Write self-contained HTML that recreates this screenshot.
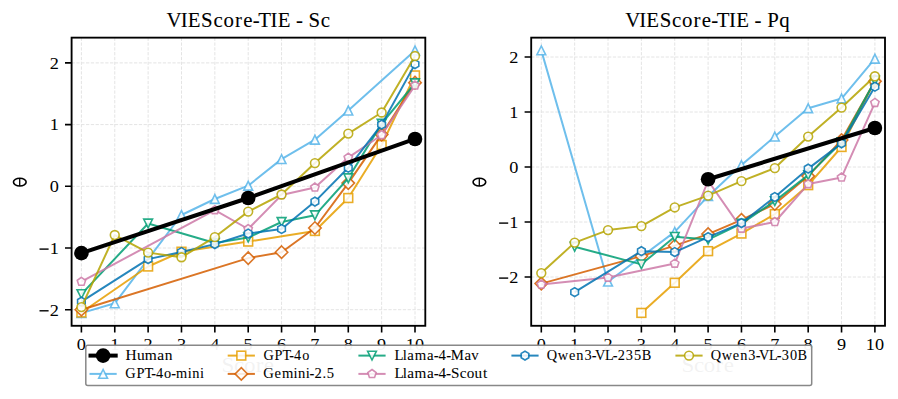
<!DOCTYPE html>
<html><head><meta charset="utf-8"><style>
html,body{margin:0;padding:0;background:#fff;}
svg{display:block;font-family:"Liberation Serif", serif;}
</style></head><body>
<svg width="898" height="399" viewBox="0 0 898 399">
<rect width="898" height="399" fill="#fff"/>
<path d="M81.4 37.65V325.8M114.76 37.65V325.8M148.12 37.65V325.8M181.48 37.65V325.8M214.84 37.65V325.8M248.2 37.65V325.8M281.56 37.65V325.8M314.92 37.65V325.8M348.28 37.65V325.8M381.64 37.65V325.8M415 37.65V325.8M71.6 62.9H425.3M71.6 124.6H425.3M71.6 186.3H425.3M71.6 248H425.3M71.6 309.7H425.3" stroke="#e4e4e4" stroke-width="1" stroke-dasharray="3.3 1.5" fill="none"/>
<defs><clipPath id="clipL"><rect x="71.6" y="37.65" width="353.7" height="288.15"/></clipPath></defs>
<g clip-path="url(#clipL)">
<polyline points="81.4,313.09 114.76,303.28 181.48,214.99 214.84,199.01 248.2,185.68 281.56,159.15 314.92,139.72 348.28,110.53 415,50.56" fill="none" stroke="#56b4e9" stroke-width="2.0" stroke-opacity="0.85" stroke-linejoin="round" stroke-linecap="butt"/>
<polygon points="81.4,308.69 77,317.49 85.8,317.49" fill="#fff" stroke="#56b4e9" stroke-width="1.6" stroke-opacity="0.85" fill-opacity="0.85" stroke-linejoin="miter"/>
<polygon points="114.76,298.88 110.36,307.68 119.16,307.68" fill="#fff" stroke="#56b4e9" stroke-width="1.6" stroke-opacity="0.85" fill-opacity="0.85" stroke-linejoin="miter"/>
<polygon points="181.48,210.59 177.08,219.39 185.88,219.39" fill="#fff" stroke="#56b4e9" stroke-width="1.6" stroke-opacity="0.85" fill-opacity="0.85" stroke-linejoin="miter"/>
<polygon points="214.84,194.61 210.44,203.41 219.24,203.41" fill="#fff" stroke="#56b4e9" stroke-width="1.6" stroke-opacity="0.85" fill-opacity="0.85" stroke-linejoin="miter"/>
<polygon points="248.2,181.28 243.8,190.08 252.6,190.08" fill="#fff" stroke="#56b4e9" stroke-width="1.6" stroke-opacity="0.85" fill-opacity="0.85" stroke-linejoin="miter"/>
<polygon points="281.56,154.75 277.16,163.55 285.96,163.55" fill="#fff" stroke="#56b4e9" stroke-width="1.6" stroke-opacity="0.85" fill-opacity="0.85" stroke-linejoin="miter"/>
<polygon points="314.92,135.32 310.52,144.12 319.32,144.12" fill="#fff" stroke="#56b4e9" stroke-width="1.6" stroke-opacity="0.85" fill-opacity="0.85" stroke-linejoin="miter"/>
<polygon points="348.28,106.13 343.88,114.93 352.68,114.93" fill="#fff" stroke="#56b4e9" stroke-width="1.6" stroke-opacity="0.85" fill-opacity="0.85" stroke-linejoin="miter"/>
<polygon points="415,46.16 410.6,54.96 419.4,54.96" fill="#fff" stroke="#56b4e9" stroke-width="1.6" stroke-opacity="0.85" fill-opacity="0.85" stroke-linejoin="miter"/>
<polyline points="81.4,312.48 148.12,266.51 181.48,251.7 248.2,241.58 314.92,230.97 348.28,198.02 381.64,145.02 415,75.43" fill="none" stroke="#e69f00" stroke-width="2.0" stroke-opacity="0.85" stroke-linejoin="round" stroke-linecap="butt"/>
<rect x="77" y="308.08" width="8.8" height="8.8" fill="#fff" stroke="#e69f00" stroke-width="1.6" stroke-opacity="0.85" fill-opacity="0.85"/>
<rect x="143.72" y="262.11" width="8.8" height="8.8" fill="#fff" stroke="#e69f00" stroke-width="1.6" stroke-opacity="0.85" fill-opacity="0.85"/>
<rect x="177.08" y="247.3" width="8.8" height="8.8" fill="#fff" stroke="#e69f00" stroke-width="1.6" stroke-opacity="0.85" fill-opacity="0.85"/>
<rect x="243.8" y="237.18" width="8.8" height="8.8" fill="#fff" stroke="#e69f00" stroke-width="1.6" stroke-opacity="0.85" fill-opacity="0.85"/>
<rect x="310.52" y="226.57" width="8.8" height="8.8" fill="#fff" stroke="#e69f00" stroke-width="1.6" stroke-opacity="0.85" fill-opacity="0.85"/>
<rect x="343.88" y="193.62" width="8.8" height="8.8" fill="#fff" stroke="#e69f00" stroke-width="1.6" stroke-opacity="0.85" fill-opacity="0.85"/>
<rect x="377.24" y="140.62" width="8.8" height="8.8" fill="#fff" stroke="#e69f00" stroke-width="1.6" stroke-opacity="0.85" fill-opacity="0.85"/>
<rect x="410.6" y="71.03" width="8.8" height="8.8" fill="#fff" stroke="#e69f00" stroke-width="1.6" stroke-opacity="0.85" fill-opacity="0.85"/>
<polyline points="81.4,309.7 248.2,258.12 281.56,252.2 314.92,228.01 348.28,183.09 381.64,134.6 415,82.64" fill="none" stroke="#d55e00" stroke-width="2.0" stroke-opacity="0.85" stroke-linejoin="round" stroke-linecap="butt"/>
<polygon points="81.4,303.48 87.62,309.7 81.4,315.92 75.18,309.7" fill="#fff" stroke="#d55e00" stroke-width="1.6" stroke-opacity="0.85" fill-opacity="0.85" stroke-linejoin="miter"/>
<polygon points="248.2,251.9 254.42,258.12 248.2,264.34 241.98,258.12" fill="#fff" stroke="#d55e00" stroke-width="1.6" stroke-opacity="0.85" fill-opacity="0.85" stroke-linejoin="miter"/>
<polygon points="281.56,245.97 287.78,252.2 281.56,258.42 275.34,252.2" fill="#fff" stroke="#d55e00" stroke-width="1.6" stroke-opacity="0.85" fill-opacity="0.85" stroke-linejoin="miter"/>
<polygon points="314.92,221.79 321.14,228.01 314.92,234.23 308.7,228.01" fill="#fff" stroke="#d55e00" stroke-width="1.6" stroke-opacity="0.85" fill-opacity="0.85" stroke-linejoin="miter"/>
<polygon points="348.28,176.87 354.5,183.09 348.28,189.31 342.06,183.09" fill="#fff" stroke="#d55e00" stroke-width="1.6" stroke-opacity="0.85" fill-opacity="0.85" stroke-linejoin="miter"/>
<polygon points="381.64,128.37 387.86,134.6 381.64,140.82 375.42,134.6" fill="#fff" stroke="#d55e00" stroke-width="1.6" stroke-opacity="0.85" fill-opacity="0.85" stroke-linejoin="miter"/>
<polygon points="415,76.42 421.22,82.64 415,88.87 408.78,82.64" fill="#fff" stroke="#d55e00" stroke-width="1.6" stroke-opacity="0.85" fill-opacity="0.85" stroke-linejoin="miter"/>
<polyline points="81.4,294.09 148.12,223.51 214.84,243.06 248.2,237.51 281.56,222.02 314.92,215.3 348.28,178.28 381.64,123.61 415,83.26" fill="none" stroke="#009e73" stroke-width="2.0" stroke-opacity="0.85" stroke-linejoin="round" stroke-linecap="butt"/>
<polygon points="81.4,298.49 77,289.69 85.8,289.69" fill="#fff" stroke="#009e73" stroke-width="1.6" stroke-opacity="0.85" fill-opacity="0.85" stroke-linejoin="miter"/>
<polygon points="148.12,227.91 143.72,219.11 152.52,219.11" fill="#fff" stroke="#009e73" stroke-width="1.6" stroke-opacity="0.85" fill-opacity="0.85" stroke-linejoin="miter"/>
<polygon points="214.84,247.46 210.44,238.66 219.24,238.66" fill="#fff" stroke="#009e73" stroke-width="1.6" stroke-opacity="0.85" fill-opacity="0.85" stroke-linejoin="miter"/>
<polygon points="248.2,241.91 243.8,233.11 252.6,233.11" fill="#fff" stroke="#009e73" stroke-width="1.6" stroke-opacity="0.85" fill-opacity="0.85" stroke-linejoin="miter"/>
<polygon points="281.56,226.42 277.16,217.62 285.96,217.62" fill="#fff" stroke="#009e73" stroke-width="1.6" stroke-opacity="0.85" fill-opacity="0.85" stroke-linejoin="miter"/>
<polygon points="314.92,219.7 310.52,210.9 319.32,210.9" fill="#fff" stroke="#009e73" stroke-width="1.6" stroke-opacity="0.85" fill-opacity="0.85" stroke-linejoin="miter"/>
<polygon points="348.28,182.68 343.88,173.88 352.68,173.88" fill="#fff" stroke="#009e73" stroke-width="1.6" stroke-opacity="0.85" fill-opacity="0.85" stroke-linejoin="miter"/>
<polygon points="381.64,128.01 377.24,119.21 386.04,119.21" fill="#fff" stroke="#009e73" stroke-width="1.6" stroke-opacity="0.85" fill-opacity="0.85" stroke-linejoin="miter"/>
<polygon points="415,87.66 410.6,78.86 419.4,78.86" fill="#fff" stroke="#009e73" stroke-width="1.6" stroke-opacity="0.85" fill-opacity="0.85" stroke-linejoin="miter"/>
<polyline points="81.4,281.69 214.84,210.05 248.2,229 281.56,194.94 314.92,187.47 348.28,157.61 381.64,135.03 415,85.48" fill="none" stroke="#cc79a7" stroke-width="2.0" stroke-opacity="0.85" stroke-linejoin="round" stroke-linecap="butt"/>
<polygon points="81.4,277.29 85.58,280.33 83.99,285.25 78.81,285.25 77.22,280.33" fill="#fff" stroke="#cc79a7" stroke-width="1.6" stroke-opacity="0.85" fill-opacity="0.85" stroke-linejoin="miter"/>
<polygon points="214.84,205.65 219.02,208.69 217.43,213.61 212.25,213.61 210.66,208.69" fill="#fff" stroke="#cc79a7" stroke-width="1.6" stroke-opacity="0.85" fill-opacity="0.85" stroke-linejoin="miter"/>
<polygon points="248.2,224.6 252.38,227.64 250.79,232.56 245.61,232.56 244.02,227.64" fill="#fff" stroke="#cc79a7" stroke-width="1.6" stroke-opacity="0.85" fill-opacity="0.85" stroke-linejoin="miter"/>
<polygon points="281.56,190.54 285.74,193.58 284.15,198.5 278.97,198.5 277.38,193.58" fill="#fff" stroke="#cc79a7" stroke-width="1.6" stroke-opacity="0.85" fill-opacity="0.85" stroke-linejoin="miter"/>
<polygon points="314.92,183.07 319.1,186.11 317.51,191.03 312.33,191.03 310.74,186.11" fill="#fff" stroke="#cc79a7" stroke-width="1.6" stroke-opacity="0.85" fill-opacity="0.85" stroke-linejoin="miter"/>
<polygon points="348.28,153.21 352.46,156.25 350.87,161.17 345.69,161.17 344.1,156.25" fill="#fff" stroke="#cc79a7" stroke-width="1.6" stroke-opacity="0.85" fill-opacity="0.85" stroke-linejoin="miter"/>
<polygon points="381.64,130.63 385.82,133.67 384.23,138.59 379.05,138.59 377.46,133.67" fill="#fff" stroke="#cc79a7" stroke-width="1.6" stroke-opacity="0.85" fill-opacity="0.85" stroke-linejoin="miter"/>
<polygon points="415,81.08 419.18,84.12 417.59,89.04 412.41,89.04 410.82,84.12" fill="#fff" stroke="#cc79a7" stroke-width="1.6" stroke-opacity="0.85" fill-opacity="0.85" stroke-linejoin="miter"/>
<polyline points="81.4,301.68 148.12,259.11 181.48,252.07 214.84,244.11 248.2,233.56 281.56,229 314.92,201.6 348.28,167.79 381.64,124.6 415,64.13" fill="none" stroke="#0072b2" stroke-width="2.0" stroke-opacity="0.85" stroke-linejoin="round" stroke-linecap="butt"/>
<polygon points="81.4,297.28 85.21,299.48 85.21,303.88 81.4,306.08 77.59,303.88 77.59,299.48" fill="#fff" stroke="#0072b2" stroke-width="1.6" stroke-opacity="0.85" fill-opacity="0.85" stroke-linejoin="miter"/>
<polygon points="148.12,254.71 151.93,256.91 151.93,261.31 148.12,263.51 144.31,261.31 144.31,256.91" fill="#fff" stroke="#0072b2" stroke-width="1.6" stroke-opacity="0.85" fill-opacity="0.85" stroke-linejoin="miter"/>
<polygon points="181.48,247.67 185.29,249.87 185.29,254.27 181.48,256.47 177.67,254.27 177.67,249.87" fill="#fff" stroke="#0072b2" stroke-width="1.6" stroke-opacity="0.85" fill-opacity="0.85" stroke-linejoin="miter"/>
<polygon points="214.84,239.71 218.65,241.91 218.65,246.31 214.84,248.51 211.03,246.31 211.03,241.91" fill="#fff" stroke="#0072b2" stroke-width="1.6" stroke-opacity="0.85" fill-opacity="0.85" stroke-linejoin="miter"/>
<polygon points="248.2,229.16 252.01,231.36 252.01,235.76 248.2,237.96 244.39,235.76 244.39,231.36" fill="#fff" stroke="#0072b2" stroke-width="1.6" stroke-opacity="0.85" fill-opacity="0.85" stroke-linejoin="miter"/>
<polygon points="281.56,224.6 285.37,226.8 285.37,231.2 281.56,233.4 277.75,231.2 277.75,226.8" fill="#fff" stroke="#0072b2" stroke-width="1.6" stroke-opacity="0.85" fill-opacity="0.85" stroke-linejoin="miter"/>
<polygon points="314.92,197.2 318.73,199.4 318.73,203.8 314.92,206 311.11,203.8 311.11,199.4" fill="#fff" stroke="#0072b2" stroke-width="1.6" stroke-opacity="0.85" fill-opacity="0.85" stroke-linejoin="miter"/>
<polygon points="348.28,163.39 352.09,165.59 352.09,169.99 348.28,172.19 344.47,169.99 344.47,165.59" fill="#fff" stroke="#0072b2" stroke-width="1.6" stroke-opacity="0.85" fill-opacity="0.85" stroke-linejoin="miter"/>
<polygon points="381.64,120.2 385.45,122.4 385.45,126.8 381.64,129 377.83,126.8 377.83,122.4" fill="#fff" stroke="#0072b2" stroke-width="1.6" stroke-opacity="0.85" fill-opacity="0.85" stroke-linejoin="miter"/>
<polygon points="415,59.73 418.81,61.93 418.81,66.33 415,68.53 411.19,66.33 411.19,61.93" fill="#fff" stroke="#0072b2" stroke-width="1.6" stroke-opacity="0.85" fill-opacity="0.85" stroke-linejoin="miter"/>
<polyline points="81.4,307.11 114.76,235.04 148.12,252.63 181.48,257.25 214.84,237.08 248.2,211.6 281.56,194.51 314.92,163.1 348.28,133.61 381.64,112.51 415,55.99" fill="none" stroke="#b5a300" stroke-width="2.0" stroke-opacity="0.85" stroke-linejoin="round" stroke-linecap="butt"/>
<circle cx="81.4" cy="307.11" r="4.4" fill="#fff" stroke="#b5a300" stroke-width="1.6" stroke-opacity="0.85" fill-opacity="0.85"/>
<circle cx="114.76" cy="235.04" r="4.4" fill="#fff" stroke="#b5a300" stroke-width="1.6" stroke-opacity="0.85" fill-opacity="0.85"/>
<circle cx="148.12" cy="252.63" r="4.4" fill="#fff" stroke="#b5a300" stroke-width="1.6" stroke-opacity="0.85" fill-opacity="0.85"/>
<circle cx="181.48" cy="257.25" r="4.4" fill="#fff" stroke="#b5a300" stroke-width="1.6" stroke-opacity="0.85" fill-opacity="0.85"/>
<circle cx="214.84" cy="237.08" r="4.4" fill="#fff" stroke="#b5a300" stroke-width="1.6" stroke-opacity="0.85" fill-opacity="0.85"/>
<circle cx="248.2" cy="211.6" r="4.4" fill="#fff" stroke="#b5a300" stroke-width="1.6" stroke-opacity="0.85" fill-opacity="0.85"/>
<circle cx="281.56" cy="194.51" r="4.4" fill="#fff" stroke="#b5a300" stroke-width="1.6" stroke-opacity="0.85" fill-opacity="0.85"/>
<circle cx="314.92" cy="163.1" r="4.4" fill="#fff" stroke="#b5a300" stroke-width="1.6" stroke-opacity="0.85" fill-opacity="0.85"/>
<circle cx="348.28" cy="133.61" r="4.4" fill="#fff" stroke="#b5a300" stroke-width="1.6" stroke-opacity="0.85" fill-opacity="0.85"/>
<circle cx="381.64" cy="112.51" r="4.4" fill="#fff" stroke="#b5a300" stroke-width="1.6" stroke-opacity="0.85" fill-opacity="0.85"/>
<circle cx="415" cy="55.99" r="4.4" fill="#fff" stroke="#b5a300" stroke-width="1.6" stroke-opacity="0.85" fill-opacity="0.85"/>
<polyline points="81.4,253.12 248.2,198.02 415,138.98" fill="none" stroke="#000000" stroke-width="4.0" stroke-opacity="1" stroke-linejoin="round" stroke-linecap="butt"/>
<circle cx="81.4" cy="253.12" r="7.3" fill="#000"/>
<circle cx="248.2" cy="198.02" r="7.3" fill="#000"/>
<circle cx="415" cy="138.98" r="7.3" fill="#000"/>
</g>
<rect x="71.6" y="37.65" width="353.7" height="288.15" fill="none" stroke="#000" stroke-width="1.85"/>
<path d="M81.4 325.8V332.4M114.76 325.8V332.4M148.12 325.8V332.4M181.48 325.8V332.4M214.84 325.8V332.4M248.2 325.8V332.4M281.56 325.8V332.4M314.92 325.8V332.4M348.28 325.8V332.4M381.64 325.8V332.4M415 325.8V332.4M71.6 62.9H65M71.6 124.6H65M71.6 186.3H65M71.6 248H65M71.6 309.7H65" stroke="#000" stroke-width="1.6" fill="none"/>
<text x="81.4" y="350.4" font-size="16.3" text-anchor="middle" fill="#000" textLength="9.13" lengthAdjust="spacingAndGlyphs">0</text>
<text x="114.76" y="350.4" font-size="16.3" text-anchor="middle" fill="#000" textLength="9.13" lengthAdjust="spacingAndGlyphs">1</text>
<text x="148.12" y="350.4" font-size="16.3" text-anchor="middle" fill="#000" textLength="9.13" lengthAdjust="spacingAndGlyphs">2</text>
<text x="181.48" y="350.4" font-size="16.3" text-anchor="middle" fill="#000" textLength="9.13" lengthAdjust="spacingAndGlyphs">3</text>
<text x="214.84" y="350.4" font-size="16.3" text-anchor="middle" fill="#000" textLength="9.13" lengthAdjust="spacingAndGlyphs">4</text>
<text x="248.2" y="350.4" font-size="16.3" text-anchor="middle" fill="#000" textLength="9.13" lengthAdjust="spacingAndGlyphs">5</text>
<text x="281.56" y="350.4" font-size="16.3" text-anchor="middle" fill="#000" textLength="9.13" lengthAdjust="spacingAndGlyphs">6</text>
<text x="314.92" y="350.4" font-size="16.3" text-anchor="middle" fill="#000" textLength="9.13" lengthAdjust="spacingAndGlyphs">7</text>
<text x="348.28" y="350.4" font-size="16.3" text-anchor="middle" fill="#000" textLength="9.13" lengthAdjust="spacingAndGlyphs">8</text>
<text x="381.64" y="350.4" font-size="16.3" text-anchor="middle" fill="#000" textLength="9.13" lengthAdjust="spacingAndGlyphs">9</text>
<text x="415" y="350.4" font-size="16.3" text-anchor="middle" fill="#000" textLength="18.26" lengthAdjust="spacingAndGlyphs">10</text>
<text x="58.8" y="68.7" font-size="16.3" text-anchor="end" fill="#000" textLength="9.13" lengthAdjust="spacingAndGlyphs">2</text>
<text x="58.8" y="130.4" font-size="16.3" text-anchor="end" fill="#000" textLength="9.13" lengthAdjust="spacingAndGlyphs">1</text>
<text x="58.8" y="192.1" font-size="16.3" text-anchor="end" fill="#000" textLength="9.13" lengthAdjust="spacingAndGlyphs">0</text>
<text x="58.8" y="253.8" font-size="16.3" text-anchor="end" fill="#000" textLength="9.13" lengthAdjust="spacingAndGlyphs">1</text>
<rect x="39.5" y="248.4" width="9.1" height="1.4" fill="#000"/>
<text x="58.8" y="315.5" font-size="16.3" text-anchor="end" fill="#000" textLength="9.13" lengthAdjust="spacingAndGlyphs">2</text>
<rect x="39.5" y="310.1" width="9.1" height="1.4" fill="#000"/>
<text x="159.51 172.98 179.79 192.57 204.39 213.92 225.02 232.90 242.04 247.23 259.05 265.86 278.50 283.34 289.75 295.40 307.21" y="26.85" font-size="19.97" transform="scale(1.0443 1)" fill="#000" stroke="#000" stroke-width="0.08">VIEScore-TIE - Sc</text>
<ellipse cx="19.8" cy="182.12" rx="6.35" ry="3.85" fill="none" stroke="#000" stroke-width="1.6"/>
<path d="M19.7 178.22V186.03" stroke="#000" stroke-width="1.3"/>
<text x="193.02 203.87 212.49 222.73 229.81" y="372.30" font-size="20.03" transform="scale(1.1480 1)" fill="#000">Score</text>
<path d="M541.3 37.65V325.8M574.66 37.65V325.8M608.02 37.65V325.8M641.38 37.65V325.8M674.74 37.65V325.8M708.1 37.65V325.8M741.46 37.65V325.8M774.82 37.65V325.8M808.18 37.65V325.8M841.54 37.65V325.8M874.9 37.65V325.8M531.2 57H885M531.2 112H885M531.2 167H885M531.2 222H885M531.2 277H885" stroke="#e4e4e4" stroke-width="1" stroke-dasharray="3.3 1.5" fill="none"/>
<defs><clipPath id="clipR"><rect x="531.2" y="37.65" width="353.8" height="288.15"/></clipPath></defs>
<g clip-path="url(#clipR)">
<polyline points="541.3,50.4 608.02,281.68 674.74,231.9 708.1,196.15 741.46,165.07 774.82,136.59 808.18,108.21 841.54,98.52 874.9,58.7" fill="none" stroke="#56b4e9" stroke-width="2.0" stroke-opacity="0.85" stroke-linejoin="round" stroke-linecap="butt"/>
<polygon points="541.3,46 536.9,54.8 545.7,54.8" fill="#fff" stroke="#56b4e9" stroke-width="1.6" stroke-opacity="0.85" fill-opacity="0.85" stroke-linejoin="miter"/>
<polygon points="608.02,277.28 603.62,286.07 612.42,286.07" fill="#fff" stroke="#56b4e9" stroke-width="1.6" stroke-opacity="0.85" fill-opacity="0.85" stroke-linejoin="miter"/>
<polygon points="674.74,227.5 670.34,236.3 679.14,236.3" fill="#fff" stroke="#56b4e9" stroke-width="1.6" stroke-opacity="0.85" fill-opacity="0.85" stroke-linejoin="miter"/>
<polygon points="708.1,191.75 703.7,200.55 712.5,200.55" fill="#fff" stroke="#56b4e9" stroke-width="1.6" stroke-opacity="0.85" fill-opacity="0.85" stroke-linejoin="miter"/>
<polygon points="741.46,160.67 737.06,169.47 745.86,169.47" fill="#fff" stroke="#56b4e9" stroke-width="1.6" stroke-opacity="0.85" fill-opacity="0.85" stroke-linejoin="miter"/>
<polygon points="774.82,132.19 770.42,140.99 779.22,140.99" fill="#fff" stroke="#56b4e9" stroke-width="1.6" stroke-opacity="0.85" fill-opacity="0.85" stroke-linejoin="miter"/>
<polygon points="808.18,103.81 803.78,112.61 812.58,112.61" fill="#fff" stroke="#56b4e9" stroke-width="1.6" stroke-opacity="0.85" fill-opacity="0.85" stroke-linejoin="miter"/>
<polygon points="841.54,94.12 837.14,102.92 845.94,102.92" fill="#fff" stroke="#56b4e9" stroke-width="1.6" stroke-opacity="0.85" fill-opacity="0.85" stroke-linejoin="miter"/>
<polygon points="874.9,54.3 870.5,63.1 879.3,63.1" fill="#fff" stroke="#56b4e9" stroke-width="1.6" stroke-opacity="0.85" fill-opacity="0.85" stroke-linejoin="miter"/>
<polyline points="641.38,312.91 674.74,282.77 708.1,251.15 741.46,233.55 774.82,214.08 808.18,185.15 841.54,146.98 874.9,80.65" fill="none" stroke="#e69f00" stroke-width="2.0" stroke-opacity="0.85" stroke-linejoin="round" stroke-linecap="butt"/>
<rect x="636.98" y="308.51" width="8.8" height="8.8" fill="#fff" stroke="#e69f00" stroke-width="1.6" stroke-opacity="0.85" fill-opacity="0.85"/>
<rect x="670.34" y="278.38" width="8.8" height="8.8" fill="#fff" stroke="#e69f00" stroke-width="1.6" stroke-opacity="0.85" fill-opacity="0.85"/>
<rect x="703.7" y="246.75" width="8.8" height="8.8" fill="#fff" stroke="#e69f00" stroke-width="1.6" stroke-opacity="0.85" fill-opacity="0.85"/>
<rect x="737.06" y="229.15" width="8.8" height="8.8" fill="#fff" stroke="#e69f00" stroke-width="1.6" stroke-opacity="0.85" fill-opacity="0.85"/>
<rect x="770.42" y="209.68" width="8.8" height="8.8" fill="#fff" stroke="#e69f00" stroke-width="1.6" stroke-opacity="0.85" fill-opacity="0.85"/>
<rect x="803.78" y="180.75" width="8.8" height="8.8" fill="#fff" stroke="#e69f00" stroke-width="1.6" stroke-opacity="0.85" fill-opacity="0.85"/>
<rect x="837.14" y="142.58" width="8.8" height="8.8" fill="#fff" stroke="#e69f00" stroke-width="1.6" stroke-opacity="0.85" fill-opacity="0.85"/>
<rect x="870.5" y="76.25" width="8.8" height="8.8" fill="#fff" stroke="#e69f00" stroke-width="1.6" stroke-opacity="0.85" fill-opacity="0.85"/>
<polyline points="541.3,283.6 641.38,256.1 674.74,245.65 708.1,234.1 741.46,219.8 774.82,204.01 808.18,176.07 841.54,140.05 874.9,81.31" fill="none" stroke="#d55e00" stroke-width="2.0" stroke-opacity="0.85" stroke-linejoin="round" stroke-linecap="butt"/>
<polygon points="541.3,277.38 547.52,283.6 541.3,289.82 535.08,283.6" fill="#fff" stroke="#d55e00" stroke-width="1.6" stroke-opacity="0.85" fill-opacity="0.85" stroke-linejoin="miter"/>
<polygon points="641.38,249.88 647.6,256.1 641.38,262.32 635.16,256.1" fill="#fff" stroke="#d55e00" stroke-width="1.6" stroke-opacity="0.85" fill-opacity="0.85" stroke-linejoin="miter"/>
<polygon points="674.74,239.43 680.96,245.65 674.74,251.87 668.52,245.65" fill="#fff" stroke="#d55e00" stroke-width="1.6" stroke-opacity="0.85" fill-opacity="0.85" stroke-linejoin="miter"/>
<polygon points="708.1,227.88 714.32,234.1 708.1,240.32 701.88,234.1" fill="#fff" stroke="#d55e00" stroke-width="1.6" stroke-opacity="0.85" fill-opacity="0.85" stroke-linejoin="miter"/>
<polygon points="741.46,213.58 747.68,219.8 741.46,226.02 735.24,219.8" fill="#fff" stroke="#d55e00" stroke-width="1.6" stroke-opacity="0.85" fill-opacity="0.85" stroke-linejoin="miter"/>
<polygon points="774.82,197.79 781.04,204.01 774.82,210.24 768.6,204.01" fill="#fff" stroke="#d55e00" stroke-width="1.6" stroke-opacity="0.85" fill-opacity="0.85" stroke-linejoin="miter"/>
<polygon points="808.18,169.85 814.4,176.07 808.18,182.3 801.96,176.07" fill="#fff" stroke="#d55e00" stroke-width="1.6" stroke-opacity="0.85" fill-opacity="0.85" stroke-linejoin="miter"/>
<polygon points="841.54,133.83 847.76,140.05 841.54,146.27 835.32,140.05" fill="#fff" stroke="#d55e00" stroke-width="1.6" stroke-opacity="0.85" fill-opacity="0.85" stroke-linejoin="miter"/>
<polygon points="874.9,75.09 881.12,81.31 874.9,87.53 868.68,81.31" fill="#fff" stroke="#d55e00" stroke-width="1.6" stroke-opacity="0.85" fill-opacity="0.85" stroke-linejoin="miter"/>
<polyline points="574.66,246.75 641.38,264.35 674.74,236.85 708.1,239.6 741.46,223.65 774.82,201.1 808.18,175.09 841.54,142.25 874.9,80.65" fill="none" stroke="#009e73" stroke-width="2.0" stroke-opacity="0.85" stroke-linejoin="round" stroke-linecap="butt"/>
<polygon points="574.66,251.15 570.26,242.35 579.06,242.35" fill="#fff" stroke="#009e73" stroke-width="1.6" stroke-opacity="0.85" fill-opacity="0.85" stroke-linejoin="miter"/>
<polygon points="641.38,268.75 636.98,259.95 645.78,259.95" fill="#fff" stroke="#009e73" stroke-width="1.6" stroke-opacity="0.85" fill-opacity="0.85" stroke-linejoin="miter"/>
<polygon points="674.74,241.25 670.34,232.45 679.14,232.45" fill="#fff" stroke="#009e73" stroke-width="1.6" stroke-opacity="0.85" fill-opacity="0.85" stroke-linejoin="miter"/>
<polygon points="708.1,244 703.7,235.2 712.5,235.2" fill="#fff" stroke="#009e73" stroke-width="1.6" stroke-opacity="0.85" fill-opacity="0.85" stroke-linejoin="miter"/>
<polygon points="741.46,228.05 737.06,219.25 745.86,219.25" fill="#fff" stroke="#009e73" stroke-width="1.6" stroke-opacity="0.85" fill-opacity="0.85" stroke-linejoin="miter"/>
<polygon points="774.82,205.5 770.42,196.7 779.22,196.7" fill="#fff" stroke="#009e73" stroke-width="1.6" stroke-opacity="0.85" fill-opacity="0.85" stroke-linejoin="miter"/>
<polygon points="808.18,179.49 803.78,170.69 812.58,170.69" fill="#fff" stroke="#009e73" stroke-width="1.6" stroke-opacity="0.85" fill-opacity="0.85" stroke-linejoin="miter"/>
<polygon points="841.54,146.65 837.14,137.85 845.94,137.85" fill="#fff" stroke="#009e73" stroke-width="1.6" stroke-opacity="0.85" fill-opacity="0.85" stroke-linejoin="miter"/>
<polygon points="874.9,85.05 870.5,76.25 879.3,76.25" fill="#fff" stroke="#009e73" stroke-width="1.6" stroke-opacity="0.85" fill-opacity="0.85" stroke-linejoin="miter"/>
<polyline points="541.3,284.48 608.02,277.55 674.74,263.58 708.1,180.75 741.46,228.6 774.82,222 808.18,184.05 841.54,177.45 874.9,102.81" fill="none" stroke="#cc79a7" stroke-width="2.0" stroke-opacity="0.85" stroke-linejoin="round" stroke-linecap="butt"/>
<polygon points="541.3,280.08 545.48,283.12 543.89,288.04 538.71,288.04 537.12,283.12" fill="#fff" stroke="#cc79a7" stroke-width="1.6" stroke-opacity="0.85" fill-opacity="0.85" stroke-linejoin="miter"/>
<polygon points="608.02,273.15 612.2,276.19 610.61,281.11 605.43,281.11 603.84,276.19" fill="#fff" stroke="#cc79a7" stroke-width="1.6" stroke-opacity="0.85" fill-opacity="0.85" stroke-linejoin="miter"/>
<polygon points="674.74,259.18 678.92,262.22 677.33,267.14 672.15,267.14 670.56,262.22" fill="#fff" stroke="#cc79a7" stroke-width="1.6" stroke-opacity="0.85" fill-opacity="0.85" stroke-linejoin="miter"/>
<polygon points="708.1,176.35 712.28,179.39 710.69,184.31 705.51,184.31 703.92,179.39" fill="#fff" stroke="#cc79a7" stroke-width="1.6" stroke-opacity="0.85" fill-opacity="0.85" stroke-linejoin="miter"/>
<polygon points="741.46,224.2 745.64,227.24 744.05,232.16 738.87,232.16 737.28,227.24" fill="#fff" stroke="#cc79a7" stroke-width="1.6" stroke-opacity="0.85" fill-opacity="0.85" stroke-linejoin="miter"/>
<polygon points="774.82,217.6 779,220.64 777.41,225.56 772.23,225.56 770.64,220.64" fill="#fff" stroke="#cc79a7" stroke-width="1.6" stroke-opacity="0.85" fill-opacity="0.85" stroke-linejoin="miter"/>
<polygon points="808.18,179.65 812.36,182.69 810.77,187.61 805.59,187.61 804,182.69" fill="#fff" stroke="#cc79a7" stroke-width="1.6" stroke-opacity="0.85" fill-opacity="0.85" stroke-linejoin="miter"/>
<polygon points="841.54,173.05 845.72,176.09 844.13,181.01 838.95,181.01 837.36,176.09" fill="#fff" stroke="#cc79a7" stroke-width="1.6" stroke-opacity="0.85" fill-opacity="0.85" stroke-linejoin="miter"/>
<polygon points="874.9,98.41 879.08,101.46 877.49,106.37 872.31,106.37 870.72,101.46" fill="#fff" stroke="#cc79a7" stroke-width="1.6" stroke-opacity="0.85" fill-opacity="0.85" stroke-linejoin="miter"/>
<polyline points="574.66,292.12 641.38,251.15 674.74,252.08 708.1,237.12 741.46,223.1 774.82,197.03 808.18,168.65 841.54,143.35 874.9,86.7" fill="none" stroke="#0072b2" stroke-width="2.0" stroke-opacity="0.85" stroke-linejoin="round" stroke-linecap="butt"/>
<polygon points="574.66,287.73 578.47,289.93 578.47,294.32 574.66,296.52 570.85,294.32 570.85,289.93" fill="#fff" stroke="#0072b2" stroke-width="1.6" stroke-opacity="0.85" fill-opacity="0.85" stroke-linejoin="miter"/>
<polygon points="641.38,246.75 645.19,248.95 645.19,253.35 641.38,255.55 637.57,253.35 637.57,248.95" fill="#fff" stroke="#0072b2" stroke-width="1.6" stroke-opacity="0.85" fill-opacity="0.85" stroke-linejoin="miter"/>
<polygon points="674.74,247.68 678.55,249.88 678.55,254.28 674.74,256.48 670.93,254.28 670.93,249.88" fill="#fff" stroke="#0072b2" stroke-width="1.6" stroke-opacity="0.85" fill-opacity="0.85" stroke-linejoin="miter"/>
<polygon points="708.1,232.72 711.91,234.93 711.91,239.32 708.1,241.53 704.29,239.32 704.29,234.93" fill="#fff" stroke="#0072b2" stroke-width="1.6" stroke-opacity="0.85" fill-opacity="0.85" stroke-linejoin="miter"/>
<polygon points="741.46,218.7 745.27,220.9 745.27,225.3 741.46,227.5 737.65,225.3 737.65,220.9" fill="#fff" stroke="#0072b2" stroke-width="1.6" stroke-opacity="0.85" fill-opacity="0.85" stroke-linejoin="miter"/>
<polygon points="774.82,192.63 778.63,194.83 778.63,199.23 774.82,201.43 771.01,199.23 771.01,194.83" fill="#fff" stroke="#0072b2" stroke-width="1.6" stroke-opacity="0.85" fill-opacity="0.85" stroke-linejoin="miter"/>
<polygon points="808.18,164.25 811.99,166.45 811.99,170.85 808.18,173.05 804.37,170.85 804.37,166.45" fill="#fff" stroke="#0072b2" stroke-width="1.6" stroke-opacity="0.85" fill-opacity="0.85" stroke-linejoin="miter"/>
<polygon points="841.54,138.95 845.35,141.15 845.35,145.55 841.54,147.75 837.73,145.55 837.73,141.15" fill="#fff" stroke="#0072b2" stroke-width="1.6" stroke-opacity="0.85" fill-opacity="0.85" stroke-linejoin="miter"/>
<polygon points="874.9,82.3 878.71,84.5 878.71,88.9 874.9,91.1 871.09,88.9 871.09,84.5" fill="#fff" stroke="#0072b2" stroke-width="1.6" stroke-opacity="0.85" fill-opacity="0.85" stroke-linejoin="miter"/>
<polyline points="541.3,273.1 574.66,242.62 608.02,230.09 641.38,226.12 674.74,207.43 708.1,195.6 741.46,181.08 774.82,168.1 808.18,136.59 841.54,107.6 874.9,76.3" fill="none" stroke="#b5a300" stroke-width="2.0" stroke-opacity="0.85" stroke-linejoin="round" stroke-linecap="butt"/>
<circle cx="541.3" cy="273.1" r="4.4" fill="#fff" stroke="#b5a300" stroke-width="1.6" stroke-opacity="0.85" fill-opacity="0.85"/>
<circle cx="574.66" cy="242.62" r="4.4" fill="#fff" stroke="#b5a300" stroke-width="1.6" stroke-opacity="0.85" fill-opacity="0.85"/>
<circle cx="608.02" cy="230.09" r="4.4" fill="#fff" stroke="#b5a300" stroke-width="1.6" stroke-opacity="0.85" fill-opacity="0.85"/>
<circle cx="641.38" cy="226.12" r="4.4" fill="#fff" stroke="#b5a300" stroke-width="1.6" stroke-opacity="0.85" fill-opacity="0.85"/>
<circle cx="674.74" cy="207.43" r="4.4" fill="#fff" stroke="#b5a300" stroke-width="1.6" stroke-opacity="0.85" fill-opacity="0.85"/>
<circle cx="708.1" cy="195.6" r="4.4" fill="#fff" stroke="#b5a300" stroke-width="1.6" stroke-opacity="0.85" fill-opacity="0.85"/>
<circle cx="741.46" cy="181.08" r="4.4" fill="#fff" stroke="#b5a300" stroke-width="1.6" stroke-opacity="0.85" fill-opacity="0.85"/>
<circle cx="774.82" cy="168.1" r="4.4" fill="#fff" stroke="#b5a300" stroke-width="1.6" stroke-opacity="0.85" fill-opacity="0.85"/>
<circle cx="808.18" cy="136.59" r="4.4" fill="#fff" stroke="#b5a300" stroke-width="1.6" stroke-opacity="0.85" fill-opacity="0.85"/>
<circle cx="841.54" cy="107.6" r="4.4" fill="#fff" stroke="#b5a300" stroke-width="1.6" stroke-opacity="0.85" fill-opacity="0.85"/>
<circle cx="874.9" cy="76.3" r="4.4" fill="#fff" stroke="#b5a300" stroke-width="1.6" stroke-opacity="0.85" fill-opacity="0.85"/>
<polyline points="708.1,179.26 874.9,128" fill="none" stroke="#000000" stroke-width="4.0" stroke-opacity="1" stroke-linejoin="round" stroke-linecap="butt"/>
<circle cx="708.1" cy="179.26" r="7.3" fill="#000"/>
<circle cx="874.9" cy="128" r="7.3" fill="#000"/>
</g>
<rect x="531.2" y="37.65" width="353.8" height="288.15" fill="none" stroke="#000" stroke-width="1.85"/>
<path d="M541.3 325.8V332.4M574.66 325.8V332.4M608.02 325.8V332.4M641.38 325.8V332.4M674.74 325.8V332.4M708.1 325.8V332.4M741.46 325.8V332.4M774.82 325.8V332.4M808.18 325.8V332.4M841.54 325.8V332.4M874.9 325.8V332.4M531.2 57H524.6M531.2 112H524.6M531.2 167H524.6M531.2 222H524.6M531.2 277H524.6" stroke="#000" stroke-width="1.6" fill="none"/>
<text x="541.3" y="350.4" font-size="16.3" text-anchor="middle" fill="#000" textLength="9.13" lengthAdjust="spacingAndGlyphs">0</text>
<text x="574.66" y="350.4" font-size="16.3" text-anchor="middle" fill="#000" textLength="9.13" lengthAdjust="spacingAndGlyphs">1</text>
<text x="608.02" y="350.4" font-size="16.3" text-anchor="middle" fill="#000" textLength="9.13" lengthAdjust="spacingAndGlyphs">2</text>
<text x="641.38" y="350.4" font-size="16.3" text-anchor="middle" fill="#000" textLength="9.13" lengthAdjust="spacingAndGlyphs">3</text>
<text x="674.74" y="350.4" font-size="16.3" text-anchor="middle" fill="#000" textLength="9.13" lengthAdjust="spacingAndGlyphs">4</text>
<text x="708.1" y="350.4" font-size="16.3" text-anchor="middle" fill="#000" textLength="9.13" lengthAdjust="spacingAndGlyphs">5</text>
<text x="741.46" y="350.4" font-size="16.3" text-anchor="middle" fill="#000" textLength="9.13" lengthAdjust="spacingAndGlyphs">6</text>
<text x="774.82" y="350.4" font-size="16.3" text-anchor="middle" fill="#000" textLength="9.13" lengthAdjust="spacingAndGlyphs">7</text>
<text x="808.18" y="350.4" font-size="16.3" text-anchor="middle" fill="#000" textLength="9.13" lengthAdjust="spacingAndGlyphs">8</text>
<text x="841.54" y="350.4" font-size="16.3" text-anchor="middle" fill="#000" textLength="9.13" lengthAdjust="spacingAndGlyphs">9</text>
<text x="874.9" y="350.4" font-size="16.3" text-anchor="middle" fill="#000" textLength="18.26" lengthAdjust="spacingAndGlyphs">10</text>
<text x="518.4" y="62.8" font-size="16.3" text-anchor="end" fill="#000" textLength="9.13" lengthAdjust="spacingAndGlyphs">2</text>
<text x="518.4" y="117.8" font-size="16.3" text-anchor="end" fill="#000" textLength="9.13" lengthAdjust="spacingAndGlyphs">1</text>
<text x="518.4" y="172.8" font-size="16.3" text-anchor="end" fill="#000" textLength="9.13" lengthAdjust="spacingAndGlyphs">0</text>
<text x="518.4" y="227.8" font-size="16.3" text-anchor="end" fill="#000" textLength="9.13" lengthAdjust="spacingAndGlyphs">1</text>
<rect x="499.1" y="222.4" width="9.1" height="1.4" fill="#000"/>
<text x="518.4" y="282.8" font-size="16.3" text-anchor="end" fill="#000" textLength="9.13" lengthAdjust="spacingAndGlyphs">2</text>
<rect x="499.1" y="277.4" width="9.1" height="1.4" fill="#000"/>
<text x="598.78 612.25 619.07 631.84 643.66 653.19 664.29 672.18 681.32 686.52 698.33 705.15 717.78 722.62 729.04 734.82 746.31" y="26.85" font-size="19.97" transform="scale(1.0441 1)" fill="#000" stroke="#000" stroke-width="0.08">VIEScore-TIE - Pq</text>
<ellipse cx="479.4" cy="182.12" rx="6.35" ry="3.85" fill="none" stroke="#000" stroke-width="1.6"/>
<path d="M479.3 178.22V186.03" stroke="#000" stroke-width="1.3"/>
<text x="593.62 604.46 613.09 623.33 630.41" y="372.30" font-size="20.03" transform="scale(1.1480 1)" fill="#000">Score</text>
<rect x="85.8" y="345.3" width="725.9" height="40.3" rx="2" ry="2" fill="rgba(255,255,255,0.95)" stroke="#888" stroke-width="1.5"/>
<line x1="90.5" y1="355.6" x2="115.7" y2="355.6" stroke="#000000" stroke-width="4.0" stroke-opacity="1" stroke-linecap="square"/>
<circle cx="103.1" cy="355.6" r="7.3" fill="#000"/>
<text x="114.83 125.21 132.49 143.74 150.62" y="360.10" font-size="14.13" transform="scale(1.0934 1)" fill="#000" stroke="#000" stroke-width="0.06">Human</text>
<line x1="90.5" y1="373.9" x2="115.7" y2="373.9" stroke="#56b4e9" stroke-width="2.0" stroke-opacity="0.85" stroke-linecap="square"/>
<polygon points="103.1,369.5 98.7,378.3 107.5,378.3" fill="#fff" stroke="#56b4e9" stroke-width="1.6" stroke-opacity="0.85" fill-opacity="0.85" stroke-linejoin="miter"/>
<text x="123.18 134.05 141.89 148.56 153.27 161.19 168.21 173.07 184.53 188.96 196.57" y="378.50" font-size="14.13" transform="scale(1.0177 1)" fill="#000" stroke="#000" stroke-width="0.06">GPT-4o-mini</text>
<line x1="228.7" y1="355.6" x2="253.9" y2="355.6" stroke="#e69f00" stroke-width="2.0" stroke-opacity="0.85" stroke-linecap="square"/>
<rect x="236.9" y="351.2" width="8.8" height="8.8" fill="#fff" stroke="#e69f00" stroke-width="1.6" stroke-opacity="0.85" fill-opacity="0.85"/>
<text x="262.24 273.23 281.18 287.91 292.70 300.71" y="360.10" font-size="14.13" transform="scale(1.0049 1)" fill="#000" stroke="#000" stroke-width="0.06">GPT-4o</text>
<line x1="228.7" y1="373.9" x2="253.9" y2="373.9" stroke="#d55e00" stroke-width="2.0" stroke-opacity="0.85" stroke-linecap="square"/>
<polygon points="241.3,367.68 247.52,373.9 241.3,380.12 235.08,373.9" fill="#fff" stroke="#d55e00" stroke-width="1.6" stroke-opacity="0.85" fill-opacity="0.85" stroke-linejoin="miter"/>
<text x="254.64 265.42 272.55 283.88 288.21 295.72 299.36 304.02 311.79 315.88" y="378.50" font-size="14.13" transform="scale(1.0343 1)" fill="#000" stroke="#000" stroke-width="0.06">Gemini-2.5</text>
<line x1="359.4" y1="355.6" x2="384.6" y2="355.6" stroke="#009e73" stroke-width="2.0" stroke-opacity="0.85" stroke-linecap="square"/>
<polygon points="372,360 367.6,351.2 376.4,351.2" fill="#fff" stroke="#009e73" stroke-width="1.6" stroke-opacity="0.85" fill-opacity="0.85" stroke-linejoin="miter"/>
<text x="376.78 384.63 389.06 396.15 407.80 414.32 418.86 426.13 430.43 443.50 450.18" y="360.10" font-size="14.13" transform="scale(1.0471 1)" fill="#000" stroke="#000" stroke-width="0.06">Llama-4-Mav</text>
<line x1="359.4" y1="373.9" x2="384.6" y2="373.9" stroke="#cc79a7" stroke-width="2.0" stroke-opacity="0.85" stroke-linecap="square"/>
<polygon points="372,369.5 376.18,372.54 374.59,377.46 369.41,377.46 367.82,372.54" fill="#fff" stroke="#cc79a7" stroke-width="1.6" stroke-opacity="0.85" fill-opacity="0.85" stroke-linejoin="miter"/>
<text x="366.88 374.58 378.86 385.71 397.11 403.48 407.88 414.99 419.46 427.59 434.10 441.41 449.23" y="378.50" font-size="14.13" transform="scale(1.0750 1)" fill="#000" stroke="#000" stroke-width="0.06">Llama-4-Scout</text>
<line x1="512.4" y1="355.6" x2="537.6" y2="355.6" stroke="#0072b2" stroke-width="2.0" stroke-opacity="0.85" stroke-linecap="square"/>
<polygon points="525,351.2 528.81,353.4 528.81,357.8 525,360 521.19,357.8 521.19,353.4" fill="#fff" stroke="#0072b2" stroke-width="1.6" stroke-opacity="0.85" fill-opacity="0.85" stroke-linejoin="miter"/>
<text x="538.82 549.60 560.55 567.90 575.81 583.17 586.19 596.11 603.87 608.64 616.70 624.67 632.43" y="360.10" font-size="14.13" transform="scale(1.0149 1)" fill="#000" stroke="#000" stroke-width="0.06">Qwen3-VL-235B</text>
<line x1="676.4" y1="355.6" x2="701.6" y2="355.6" stroke="#b5a300" stroke-width="2.0" stroke-opacity="0.85" stroke-linecap="square"/>
<circle cx="689" cy="355.6" r="4.4" fill="#fff" stroke="#b5a300" stroke-width="1.6" stroke-opacity="0.85" fill-opacity="0.85"/>
<text x="701.63 712.43 723.40 730.77 738.69 746.06 749.09 759.03 766.79 771.63 779.70 787.26" y="360.10" font-size="14.13" transform="scale(1.0131 1)" fill="#000" stroke="#000" stroke-width="0.06">Qwen3-VL-30B</text>
</svg>
</body></html>
